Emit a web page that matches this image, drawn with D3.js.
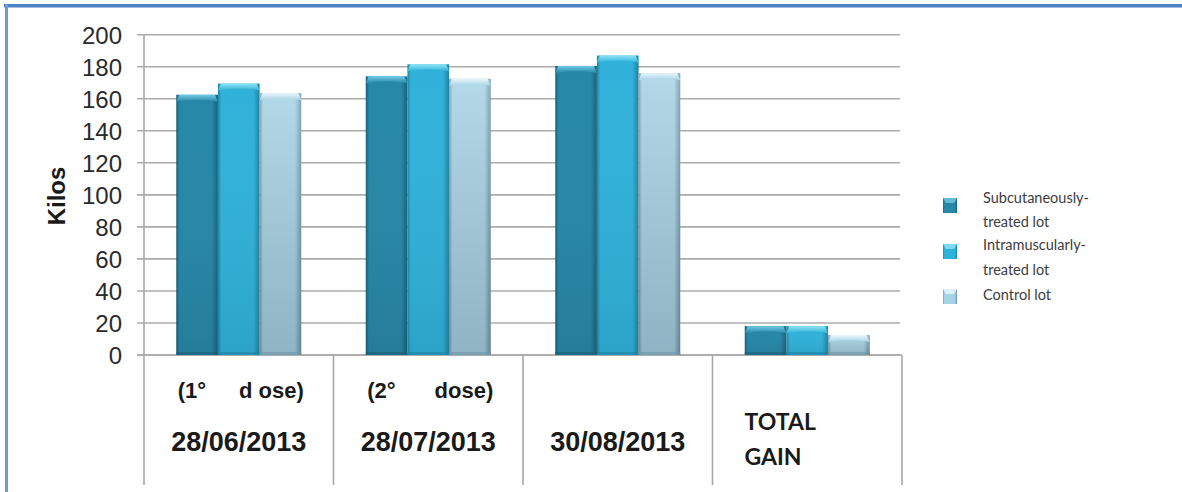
<!DOCTYPE html>
<html><head><meta charset="utf-8">
<script src="https://cdn.jsdelivr.net/npm/d3@7/dist/d3.min.js"></script>
<style>
html,body{margin:0;padding:0;background:#fff;}
svg{display:block;}
text{white-space:pre;}
</style></head>
<body>
<script>
// ---- data ----
const categories = ["28/06/2013", "28/07/2013", "30/08/2013", "TOTAL GAIN"];
const doseLabels = [["(1°", "d ose)"], ["(2°", "dose)"], null, null];
const seriesNames = ["Subcutaneously-treated lot", "Intramuscularly-treated lot", "Control lot"];
const legendLines = [["Subcutaneously-", "treated lot"], ["Intramuscularly-", "treated lot"], ["Control lot"]];
const subcutaneous = [162.5, 174, 180.5, 18];
const intramuscular = [169.5, 181.5, 187, 18];
const control = [163.5, 172.5, 176, 12.5];
const yTicks = [0, 20, 40, 60, 80, 100, 120, 140, 160, 180, 200];
const yLabel = "Kilos";

const seriesValues = [subcutaneous, intramuscular, control];
const W = 1182, H = 492;
const svg = d3.select("body").append("svg").attr("width", W).attr("height", H);
const defs = svg.append("defs");

const pal = [
  {dark:"#17607a", base:"#2687a7", light:"#6fcbe6"},
  {dark:"#1d83a3", base:"#30b1d9", light:"#8fe3f6"},
  {dark:"#6e96a8", base:"#a6d2e5", light:"#eaf7fc"}
];
pal.forEach((p, i) => {
  const g = defs.append("linearGradient").attr("id", "gh" + i).attr("x1", 0).attr("x2", 1).attr("y1", 0).attr("y2", 0);
  g.append("stop").attr("offset", 0).attr("stop-color", p.dark);
  g.append("stop").attr("offset", 0.08).attr("stop-color", p.base);
  g.append("stop").attr("offset", 0.85).attr("stop-color", p.base);
  g.append("stop").attr("offset", 1).attr("stop-color", p.dark);
  const v = defs.append("linearGradient").attr("id", "gv" + i).attr("x1", 0).attr("x2", 0).attr("y1", 0).attr("y2", 1);
  v.append("stop").attr("offset", 0).attr("stop-color", "#fff").attr("stop-opacity", i === 2 ? 0.15 : 0.0);
  v.append("stop").attr("offset", 1).attr("stop-color", "#000").attr("stop-opacity", i === 2 ? 0.14 : 0.08);
  const t = defs.append("linearGradient").attr("id", "gt" + i).attr("x1", 0).attr("x2", 0).attr("y1", 0).attr("y2", 1);
  t.append("stop").attr("offset", 0).attr("stop-color", p.light);
  t.append("stop").attr("offset", 1).attr("stop-color", p.base);
});

// frame
svg.append("rect").attr("x", 4).attr("y", 4).attr("width", W - 4).attr("height", 3.5).attr("fill", "#4f82c3");
svg.append("rect").attr("x", 5).attr("y", 4).attr("width", 3).attr("height", H - 4).attr("fill", "#6f9ad6");

// scales
const x = d3.scaleBand().domain(categories).range([144, 902]).paddingInner(0).paddingOuter(0);
const x1 = d3.scaleBand().domain(seriesNames).range([0, x.bandwidth()]).paddingInner(0).paddingOuter(0.774);
const y = d3.scaleLinear().domain([0, 200]).range([355, 34.7]);

// gridlines
svg.append("g").selectAll("line").data(yTicks).join("line")
  .attr("x1", 137).attr("x2", 900)
  .attr("y1", d => y(d)).attr("y2", d => y(d))
  .attr("stroke", "#ababab").attr("stroke-width", 1.6);

// y axis labels
const yAxis = d3.axisLeft(y).tickValues(yTicks).tickSize(0).tickPadding(0).tickFormat(d3.format("d"));
const gy = svg.append("g").attr("transform", "translate(122,0)").call(yAxis);
gy.select(".domain").remove();
gy.selectAll("text").attr("font-family", "'Liberation Sans', Arial, sans-serif")
  .attr("font-size", 24).attr("fill", "#2b2b2b").attr("dy", "0.36em");

// vertical axis & category dividers
const bounds = categories.map(c => x(c)).concat([x(categories[categories.length - 1]) + x.bandwidth()]);
svg.append("g").selectAll("line").data(bounds).join("line")
  .attr("x1", d => d).attr("x2", d => d)
  .attr("y1", (d, i) => i === 0 ? y(200) : y(0)).attr("y2", 485)
  .attr("stroke", "#a8a8a8").attr("stroke-width", 1.6);
svg.append("line").attr("x1", 137).attr("x2", 902).attr("y1", y(0)).attr("y2", y(0))
  .attr("stroke", "#a8a8a8").attr("stroke-width", 1.6);

// bars
seriesValues.forEach((vals, si) => {
  const g = svg.append("g");
  vals.forEach((v, ci) => {
    const bx = x(categories[ci]) + x1(seriesNames[si]);
    const bw = x1.bandwidth();
    const top = y(v), bot = y(0);
    g.append("rect").attr("x", bx).attr("y", top).attr("width", bw).attr("height", bot - top)
      .attr("fill", `url(#gh${si})`);
    g.append("rect").attr("x", bx).attr("y", top).attr("width", bw).attr("height", bot - top)
      .attr("fill", `url(#gv${si})`);
    g.append("path")
      .attr("d", `M${bx},${top + 7} L${bx + 3},${top} L${bx + bw - 3},${top} L${bx + bw},${top + 7} Q${bx + bw / 2},${top + 3} ${bx},${top + 7} Z`)
      .attr("fill", `url(#gt${si})`);
    g.append("rect").attr("x", bx).attr("y", bot - 3).attr("width", bw).attr("height", 3)
      .attr("fill", pal[si].dark).attr("opacity", 0.6);
  });
});

// x labels
const font = "'Liberation Sans', Arial, sans-serif";
categories.forEach((c, ci) => {
  const cx = x(c) + x.bandwidth() / 2;
  if (c === "TOTAL GAIN") {
    c.split(" ").forEach((p, k) => {
      svg.append("text").attr("x", x(c) + 32).attr("y", 430 + k * 35)
        .attr("font-family", "Lato, 'Open Sans', sans-serif").attr("font-weight", "bold")
        .attr("font-size", 23).attr("fill", "#1a1a1a").text(p);
    });
    return;
  }
  const dl = doseLabels[ci];
  if (dl) {
    svg.append("text").attr("x", cx - 61).attr("y", 398).attr("font-family", font)
      .attr("font-weight", "bold").attr("font-size", 22).attr("fill", "#1a1a1a").text(dl[0]);
    svg.append("text").attr("x", cx + 65).attr("y", 398).attr("text-anchor", "end").attr("font-family", font)
      .attr("font-weight", "bold").attr("font-size", 22).attr("fill", "#1a1a1a").text(dl[1]);
  }
  svg.append("text").attr("x", cx).attr("y", 451).attr("text-anchor", "middle").attr("font-family", font)
    .attr("font-weight", "bold").attr("font-size", 27).attr("fill", "#1a1a1a").text(c);
});

// y label
svg.append("text").attr("transform", "translate(65,196) rotate(-90)").attr("text-anchor", "middle")
  .attr("font-family", font).attr("font-weight", "bold").attr("font-size", 24).attr("fill", "#1a1a1a").text(yLabel);

// legend
const sqY = [205, 251, 296];
const textY = [[203, 227], [250, 275], [300]];
legendLines.forEach((lines, i) => {
  svg.append("rect").attr("x", 943).attr("y", sqY[i] - 7).attr("width", 14).attr("height", 15).attr("fill", `url(#gh${i})`);
  svg.append("path").attr("d", `M943,${sqY[i] - 7} h14 l-3,5 h-8 Z`).attr("fill", pal[i].light).attr("opacity", 0.8);
  lines.forEach((l, k) => {
    svg.append("text").attr("x", 983).attr("y", textY[i][k])
      .attr("font-family", "Lato, 'Open Sans', sans-serif").attr("font-size", 14.5).attr("fill", "#3d3d3d").text(l);
  });
});
</script>
</body></html>
